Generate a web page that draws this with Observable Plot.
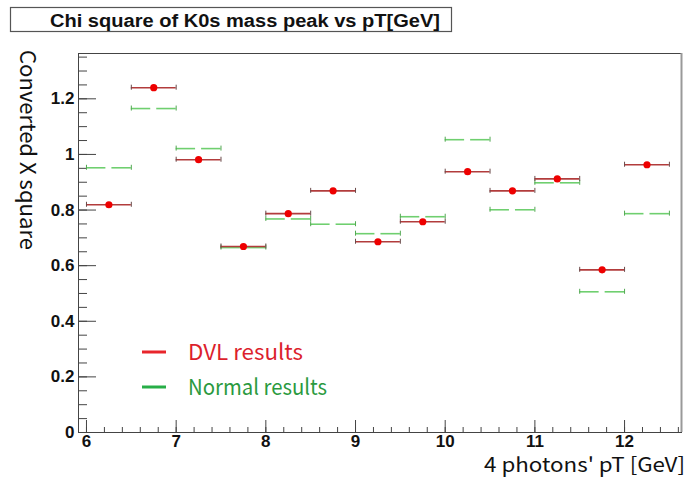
<!DOCTYPE html>
<html>
<head>
<meta charset="utf-8">
<script src="https://cdn.jsdelivr.net/npm/d3@7"></script>
<script src="https://cdn.jsdelivr.net/npm/@observablehq/plot@0.6"></script>
<style>
  body { margin: 0; background: #fff; }
  #chart { width: 688px; height: 480px; position: relative; }
</style>
</head>
<body>
<div id="chart"></div>
<script>
// ---- data ----
const pT      = [6.25, 6.75, 7.25, 7.75, 8.25, 8.75, 9.25, 9.75, 10.25, 10.75, 11.25, 11.75, 12.25];
const pTerr   = [0.25, 0.25, 0.25, 0.25, 0.25, 0.25, 0.25, 0.25, 0.25, 0.25, 0.25, 0.25, 0.25];
const dvl     = [0.819, 1.240, 0.981, 0.669, 0.787, 0.869, 0.686, 0.758, 0.938, 0.869, 0.912, 0.585, 0.963];
const normal  = [0.952, 1.165, 1.021, 0.665, 0.768, 0.749, 0.715, 0.776, 1.053, 0.801, 0.898, 0.506, 0.787];
const xTicks  = [6, 7, 8, 9, 10, 11, 12];
const yTicks  = [0, 0.2, 0.4, 0.6, 0.8, 1, 1.2];
const xDomain = [5.911, 12.635];
const yDomain = [0, 1.363];
const titleText  = "Chi square of K0s mass peak vs pT[GeV]";
const xLabel     = "4 photons' pT [GeV]";
const yLabel     = "Converted X square";
const legendDVL  = "DVL results";
const legendNorm = "Normal results";

// minor tick positions
const xMinor = d3.range(6, 12.7, 0.2).map(v => +v.toFixed(2)).filter(v => v > xDomain[0] && v < xDomain[1]);
const yMinor = d3.range(0, 1.36, 0.05).map(v => +v.toFixed(2));

const W = 688, H = 480, mL = 78, mR = 7, mT = 53, mB = 48;
const innerW = W - mL - mR, innerH = H - mT - mB;

const rows = pT.map((x, i) => ({x, lo: x - pTerr[i], hi: x + pTerr[i], dvl: dvl[i], normal: normal[i]}));

const redBar = "#b23c3c", redCap = "#6a4a4a", green = "#6fcf6f", greenCap = "#52a852";

const plot = Plot.plot({
  width: W, height: H,
  marginLeft: mL, marginRight: mR, marginTop: mT, marginBottom: mB,
  x: {domain: xDomain},
  y: {domain: yDomain},
  style: {background: "white", fontFamily: "'Liberation Sans', Arial, sans-serif", fontWeight: "bold", color: "#111"},
  marks: [
    // ticks (inward)
    Plot.tickY(yMinor, {y: d => d, insetRight: innerW - 9, stroke: "#444"}),
    Plot.tickY(yTicks, {y: d => d, insetRight: innerW - 18, stroke: "#444"}),
    Plot.tickX(xMinor, {x: d => d, insetTop: innerH - 5, stroke: "#444"}),
    Plot.tickX(xTicks, {x: d => d, insetTop: innerH - 12, stroke: "#444"}),
    Plot.axisY({ticks: yTicks, tickSize: 0, tickPadding: 4, fontSize: 17, label: null,
                tickFormat: d => String(+d.toFixed(1))}),
    Plot.axisX({ticks: xTicks, tickSize: 0, tickPadding: 2, fontSize: 17, label: null,
                tickFormat: d => String(d)}),
    // frame
    Plot.frame({stroke: "#444"}),
    Plot.ruleX([xDomain[1]], {stroke: "#999", strokeWidth: 2}),
    // Normal results: error bars with gap in the middle
    Plot.ruleY(rows, {y: "normal", x1: "lo", x2: "x", insetRight: 3, stroke: green, strokeWidth: 1.6}),
    Plot.ruleY(rows, {y: "normal", x1: "x", x2: "hi", insetLeft: 3, stroke: green, strokeWidth: 1.6}),
    Plot.ruleX(rows, {x: "lo", y1: "normal", y2: "normal", insetTop: -2.5, insetBottom: -2.5, stroke: greenCap}),
    Plot.ruleX(rows, {x: "hi", y1: "normal", y2: "normal", insetTop: -2.5, insetBottom: -2.5, stroke: greenCap}),
    // DVL results
    Plot.ruleY(rows, {y: "dvl", x1: "lo", x2: "hi", stroke: redBar, strokeWidth: 1.6}),
    Plot.ruleX(rows, {x: "lo", y1: "dvl", y2: "dvl", insetTop: -2.5, insetBottom: -2.5, stroke: redCap}),
    Plot.ruleX(rows, {x: "hi", y1: "dvl", y2: "dvl", insetTop: -2.5, insetBottom: -2.5, stroke: redCap}),
    Plot.dot(rows, {x: "x", y: "dvl", r: 3.6, fill: "#ee0000", stroke: "none"})
  ]
});

document.getElementById("chart").appendChild(plot);

// ---- annotations: title box, axis titles, legend ----
const svg = d3.select(plot);
const gothic = "'Noto Sans CJK JP', 'DejaVu Sans', sans-serif";
const g = svg.append("g").attr("text-anchor", "start");

g.append("rect").attr("x", 10.5).attr("y", 7.5).attr("width", 441).attr("height", 24)
   .attr("fill", "white").attr("stroke", "#555").attr("stroke-width", 1.2);
g.append("text").attr("x", 50).attr("y", 27).attr("text-anchor", "start").text(titleText)
   .attr("font-family", "'Liberation Sans', Arial, sans-serif").attr("font-weight", "bold")
   .attr("font-size", 18).attr("fill", "#111")
   .attr("textLength", 390).attr("lengthAdjust", "spacingAndGlyphs");

g.append("text").attr("x", 685).attr("y", 472).attr("text-anchor", "end").text(xLabel)
   .attr("font-family", gothic).attr("font-weight", "normal").attr("font-size", 20).attr("fill", "#111")
   .attr("textLength", 201).attr("lengthAdjust", "spacingAndGlyphs");

g.append("text").attr("transform", "translate(20,50) rotate(90)").attr("text-anchor", "start").text(yLabel)
   .attr("font-family", gothic).attr("font-weight", "normal").attr("font-size", 22).attr("fill", "#111")
   .attr("textLength", 200).attr("lengthAdjust", "spacingAndGlyphs");

const leg = [
  {label: legendDVL, color: "#e8252b", text: "#dc1f2d", y: 352, w: 115},
  {label: legendNorm, color: "#27ae47", text: "#2a9a40", y: 387, w: 139}
];
leg.forEach(l => {
  g.append("line").attr("x1", 142).attr("x2", 166).attr("y1", l.y).attr("y2", l.y)
     .attr("stroke", l.color).attr("stroke-width", 3);
  g.append("text").attr("x", 188).attr("y", l.y + 8).attr("text-anchor", "start").text(l.label)
     .attr("font-family", gothic).attr("font-weight", "normal").attr("font-size", 22).attr("fill", l.text)
     .attr("textLength", l.w).attr("lengthAdjust", "spacingAndGlyphs");
});
</script>
</body>
</html>
